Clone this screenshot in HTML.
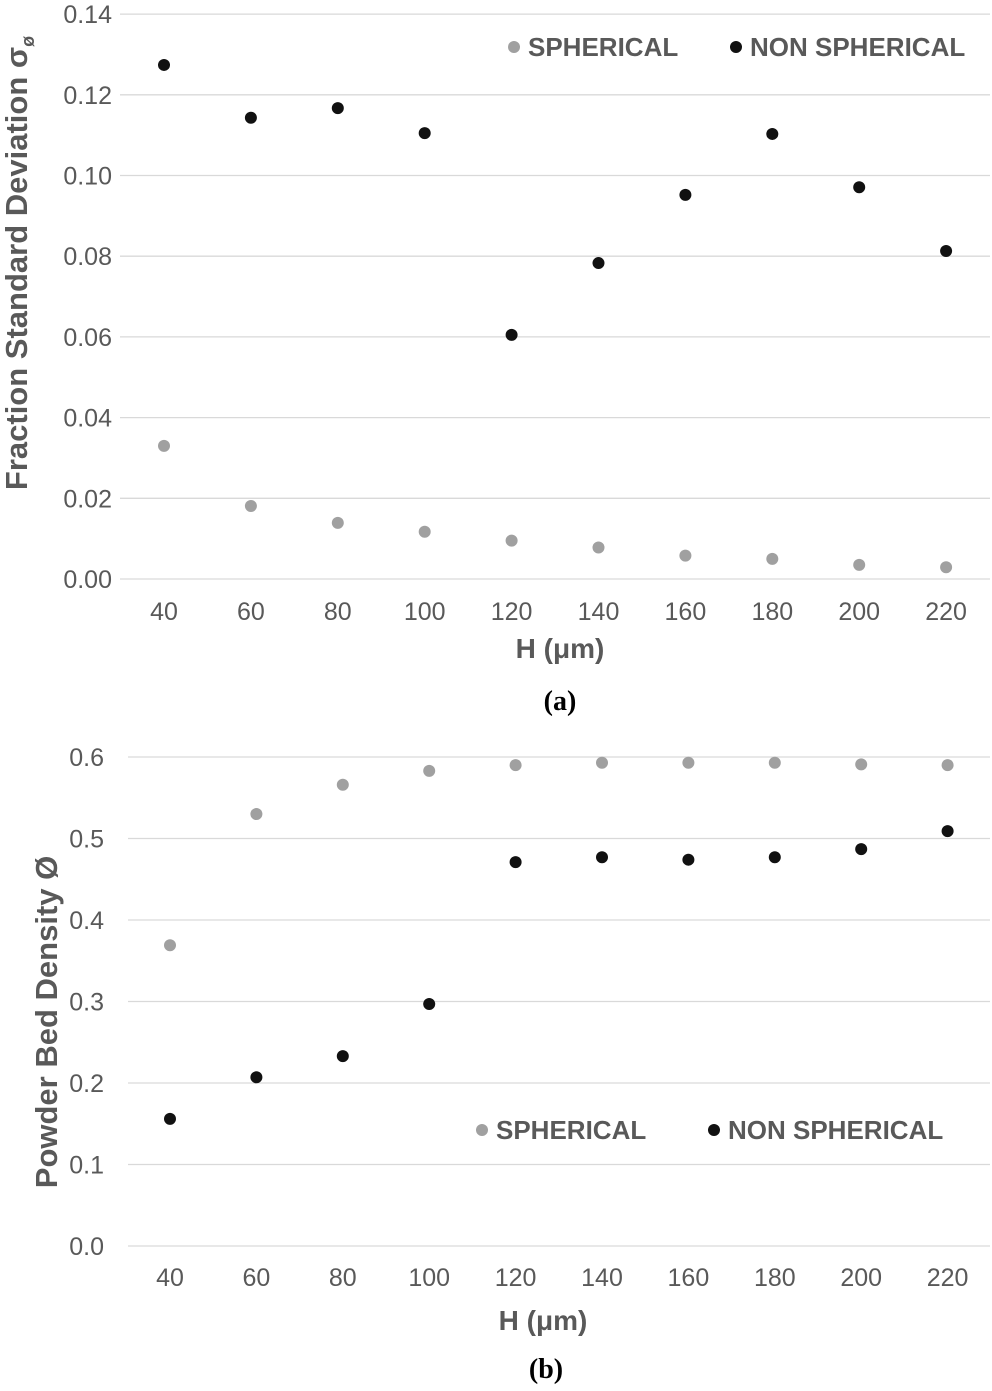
<!DOCTYPE html>
<html><head><meta charset="utf-8">
<style>
html,body{margin:0;padding:0;background:#fff;}
svg{display:block;font-family:"Liberation Sans",Arial,sans-serif;}
</style></head>
<body>
<svg id="chart" width="992" height="1391"></svg>
<script>
const categories = [40,60,80,100,120,140,160,180,200,220];
const sphA = [0.033,0.0181,0.0139,0.0117,0.0095,0.0078,0.0058,0.005,0.0035,0.0029];
const nonA = [0.1274,0.1143,0.1167,0.1105,0.0605,0.0783,0.0952,0.1103,0.0971,0.0813];
const sphB = [0.369,0.530,0.566,0.583,0.590,0.593,0.593,0.593,0.591,0.590];
const nonB = [0.156,0.207,0.233,0.297,0.471,0.477,0.474,0.477,0.487,0.509];
const ticksA = ["0.00","0.02","0.04","0.06","0.08","0.10","0.12","0.14"];
const ticksB = ["0.0","0.1","0.2","0.3","0.4","0.5","0.6"];

const NS="http://www.w3.org/2000/svg";
const svg=document.getElementById('chart');
function mk(tag,attrs,parent){const e=document.createElementNS(NS,tag);for(const k in attrs)e.setAttribute(k,attrs[k]);(parent||svg).appendChild(e);return e;}

function panel(cfg){
  const g=mk('g',{});
  
  
  const xs=i=>cfg.x0+i*cfg.xstep;
  const ys=v=>cfg.y0-(v-0)/cfg.yStepVal*cfg.yStepPx;
  cfg.ticks.forEach((t,i)=>{
    const v=parseFloat(t);const y=ys(v);
    const l=mk('line',{x1:cfg.gl,x2:cfg.gr,y1:y,y2:y,stroke:'#d9d9d9','stroke-width':1.3},g);
    
    
    const tx=mk('text',{x:cfg.tickX,y:y+9,'text-anchor':'end','font-size':25,fill:'#595959'},g);
    tx.textContent=t;
    
    
  });
  categories.forEach((c,i)=>{
    const tx=mk('text',{x:xs(i),y:cfg.xLabY,'text-anchor':'middle','font-size':25,fill:'#595959'},g);
    tx.textContent=c;
    
    
  });
  [[cfg.sph,'#a0a0a0','spherical-point'],[cfg.non,'#111111','non-spherical-point']].forEach(([arr,col,nm])=>{
    arr.forEach((v,i)=>{
      const c=mk('circle',{cx:xs(i),cy:ys(v),r:6,fill:col},g);
      
      
    });
  });
  const lg=mk('g',{},g);
  
  
  [[cfg.leg[0],'#a0a0a0','SPHERICAL'],[cfg.leg[1],'#111111','NON SPHERICAL']].forEach(([x,col,txt])=>{
    const c=mk('circle',{cx:x,cy:cfg.legY,r:6,fill:col},lg);
    
    
    const t=mk('text',{x:x+14,y:cfg.legY+9,'font-size':26,'font-weight':'bold',fill:'#595959'},lg);
    t.textContent=txt;
    
    
  });
  const xt=mk('text',{x:cfg.xtX,y:cfg.xtY,'text-anchor':'middle','font-size':28,'font-weight':'bold',fill:'#595959'},g);
  xt.textContent='H (μm)';
  
  
  const yt=mk('text',{x:0,y:0,'text-anchor':'middle','font-size':31,'font-weight':'bold',fill:'#595959',transform:`translate(${cfg.ytX},${cfg.ytY}) rotate(-90)`},g);
  yt.innerHTML=cfg.ytitle;
  
  
  const cap=mk('text',{x:cfg.capX,y:cfg.capY,'text-anchor':'middle','font-size':28,'font-weight':'bold',fill:'#000','font-family':'"Liberation Serif",serif'},g);
  cap.textContent=cfg.cap;
  
  
}

panel({name:'chart-a',x0:164,xstep:86.9,y0:579,yStepVal:0.02,yStepPx:80.7,gl:120,gr:990,tickX:112,xLabY:620,
  ticks:ticksA,sph:sphA,non:nonA,leg:[514,736],legY:47,xtX:560,xtY:658,ytX:27,ytY:263,
  ytitle:'Fraction Standard Deviation σ<tspan font-size="18" dy="7">ø</tspan>',capX:560,capY:710,cap:'(a)'});
panel({name:'chart-b',x0:170,xstep:86.4,y0:1246,yStepVal:0.1,yStepPx:81.5,gl:128,gr:990,tickX:104,xLabY:1286,
  ticks:ticksB,sph:sphB,non:nonB,leg:[482,714],legY:1130,xtX:543,xtY:1330,ytX:57,ytY:1022,
  ytitle:'Powder Bed Density Ø',capX:546,capY:1378,cap:'(b)'});
</script>
</body></html>
